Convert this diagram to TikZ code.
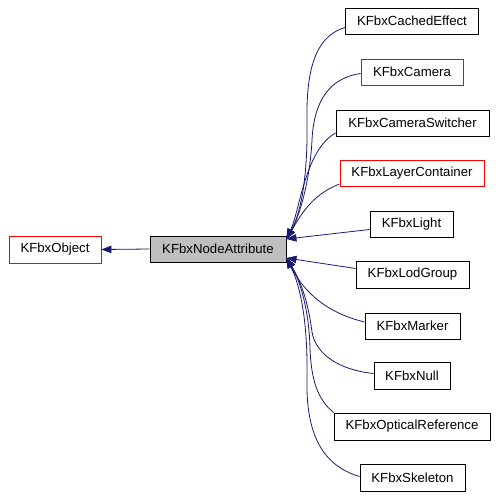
\documentclass[tikz,border=0pt]{standalone}
\usepackage{fontspec}
\setmainfont{Liberation Sans}
\usetikzlibrary{arrows.meta}
\definecolor{edgeblue}{HTML}{191970}
\definecolor{boxred}{HTML}{FF0000}
\definecolor{boxgray}{HTML}{BFBFBF}
\begin{document}
\begin{tikzpicture}[x=1pt,y=-1pt,
  box/.style={draw=black,line width=0.9pt,minimum height=26pt,inner sep=0pt,
    font=\fontsize{13.2}{15}\selectfont,anchor=center},
  redbox/.style={box,draw=boxred},
  graybox/.style={box,fill=boxgray},
  edge/.style={draw=edgeblue,line width=0.8pt,
    {Triangle[length=10pt,width=7.5pt]}-}]
\useasboundingbox[fill=white] (0,0) rectangle (498,498);
\node[redbox,minimum width=92pt,minimum height=27pt] (object) at (55,249.5) {KFbxObject};
\node[graybox,minimum width=136pt] (attr) at (218,249) {KFbxNodeAttribute};
\node[box,minimum width=133pt] (cached) at (412,21) {KFbxCachedEffect};
\node[redbox,minimum width=102pt] (camera) at (412,72) {KFbxCamera};
\node[box,minimum width=153pt] (switcher) at (412.5,123) {KFbxCameraSwitcher};
\node[redbox,minimum width=144pt] (layer) at (412,173) {KFbxLayerContainer};
\node[box,minimum width=83pt] (light) at (411.5,224) {KFbxLight};
\node[box,minimum width=113pt,minimum height=27pt] (lod) at (412.5,274.5) {KFbxLodGroup};
\node[box,minimum width=95pt] (marker) at (412.5,326) {KFbxMarker};
\node[box,minimum width=76pt,minimum height=27pt] (null) at (412,375.5) {KFbxNull};
\node[box,minimum width=156pt,minimum height=27pt] (optical) at (412,426.5) {KFbxOpticalReference};
\node[box,minimum width=105pt,minimum height=27pt] (skeleton) at (412.5,477.5) {KFbxSkeleton};
% edges
\draw[edge] (object.east) -- (attr.west);
\draw[edge] ([yshift=10pt]attr.east) .. controls (300,215) and (308,180) .. (307,120)
  .. controls (306,60) and (320,35) .. ([yshift=-6.5pt]cached.west);
\draw[edge] ([yshift=10pt]attr.east) .. controls (300,215) and (310,180) .. (312,140)
  .. controls (314,100) and (330,78) .. ([yshift=-1.5pt]camera.west);
\draw[edge] ([yshift=10pt]attr.east) .. controls (300,210) and (305,150) .. ([yshift=-10pt]switcher.west);
\draw[edge] ([yshift=10pt]attr.east) .. controls (298,220) and (310,195) .. ([yshift=-11pt]layer.west);
\draw[edge] ([yshift=10pt]attr.east) -- ([yshift=-5.5pt]light.west);
\draw[edge] ([yshift=-9pt]attr.east) -- ([yshift=6pt]lod.west);
\draw[edge] ([yshift=-9pt]attr.east) .. controls (298,280) and (315,310) .. ([yshift=4pt]marker.west);
\draw[edge] ([yshift=-9pt]attr.east) .. controls (300,280) and (308,300) .. (312,332)
  .. controls (316,355) and (340,370) .. ([yshift=2pt]null.west);
\draw[edge] ([yshift=-9pt]attr.east) .. controls (300,280) and (309,310) .. (310,348)
  .. controls (311,380) and (318,400) .. (optical.north west);
\draw[edge] ([yshift=-9pt]attr.east) .. controls (300,285) and (308,320) .. (307,380)
  .. controls (306,430) and (320,465) .. ([yshift=1pt]skeleton.west);
\end{tikzpicture}
\end{document}
